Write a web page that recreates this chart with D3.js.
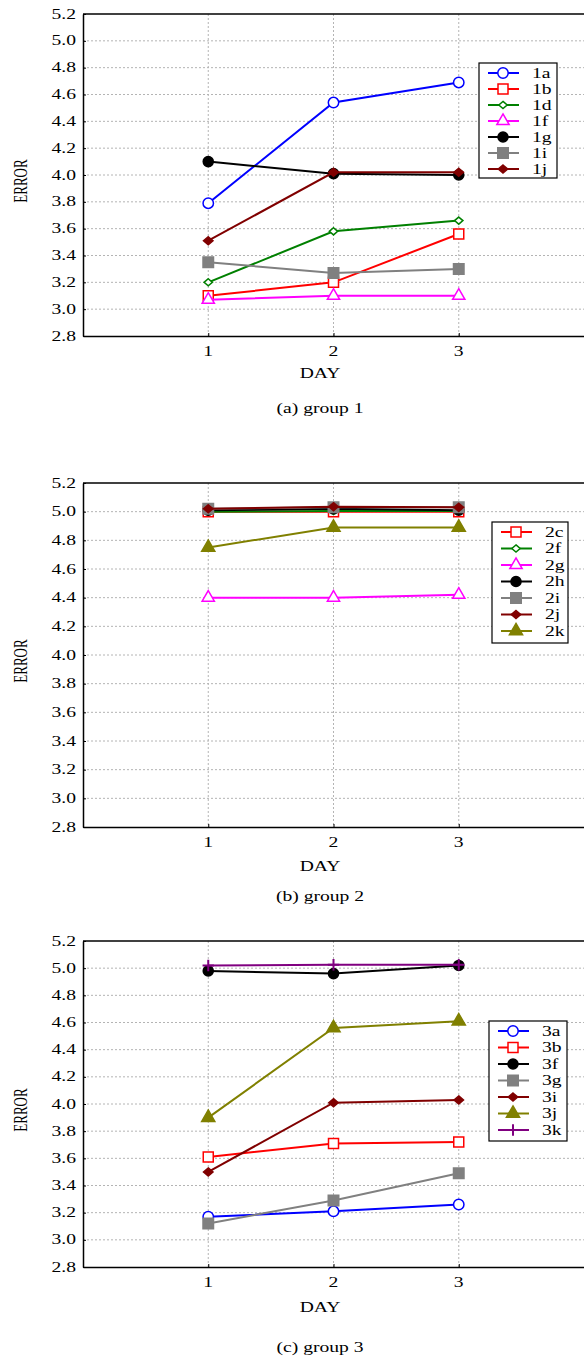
<!DOCTYPE html>
<html>
<head>
<meta charset="utf-8">
<script src="https://cdn.jsdelivr.net/npm/d3@7"></script>
<style>
  body { margin: 0; background: #fff; }
  svg { display: block; }
  text { font-family: "Liberation Serif", "Times New Roman", serif; fill: #000; }
</style>
</head>
<body>
<svg id="chart" width="584" height="1356"></svg>
<script>
// ---- data ----
const days = [1, 2, 3]
const yTicks = [2.8, 3.0, 3.2, 3.4, 3.6, 3.8, 4.0, 4.2, 4.4, 4.6, 4.8, 5.0, 5.2]

const group1Names = ["1a", "1b", "1d", "1f", "1g", "1i", "1j"]
const group1Values = [
  [3.79, 4.54, 4.69],
  [3.10, 3.20, 3.56],
  [3.20, 3.58, 3.66],
  [3.07, 3.10, 3.10],
  [4.10, 4.01, 4.00],
  [3.35, 3.27, 3.30],
  [3.51, 4.02, 4.02]
]

const group2Names = ["2c", "2f", "2g", "2h", "2i", "2j", "2k"]
const group2Values = [
  [5.00, 5.00, 5.00],
  [5.00, 5.005, 5.005],
  [4.40, 4.40, 4.42],
  [5.01, 5.02, 5.01],
  [5.02, 5.03, 5.03],
  [5.02, 5.035, 5.03],
  [4.75, 4.89, 4.89]
]

const group3Names = ["3a", "3b", "3f", "3g", "3i", "3j", "3k"]
const group3Values = [
  [3.17, 3.21, 3.26],
  [3.61, 3.71, 3.72],
  [4.98, 4.96, 5.02],
  [3.12, 3.29, 3.49],
  [3.50, 4.01, 4.03],
  [3.90, 4.56, 4.61],
  [5.02, 5.025, 5.025]
]

// ---- styles ----
const diamond = {
  draw(ctx, size) {
    let r = Math.sqrt(size) / 2
    ctx.moveTo(0, -r * 0.85); ctx.lineTo(r, 0); ctx.lineTo(0, r * 0.85); ctx.lineTo(-r, 0); ctx.closePath()
  }
}
const plus = {
  draw(ctx, size) {
    let r = Math.sqrt(size) / 2
    ctx.moveTo(-r, 0); ctx.lineTo(r, 0); ctx.moveTo(0, -r); ctx.lineTo(0, r)
  }
}

const seriesStyles = [
  {color: "#0000ff", symbol: d3.symbolCircle, size: 85, filled: false},
  {color: "#ff0000", symbol: d3.symbolSquare, size: 100, filled: false},
  {color: "#008000", symbol: diamond, size: 70, filled: false},
  {color: "#ff00ff", symbol: d3.symbolTriangle, size: 65, filled: false},
  {color: "#000000", symbol: d3.symbolCircle, size: 80, filled: true},
  {color: "#808080", symbol: d3.symbolSquare, size: 110, filled: true},
  {color: "#800000", symbol: diamond, size: 90, filled: true},
  {color: "#808000", symbol: d3.symbolTriangle, size: 75, filled: true},
  {color: "#800080", symbol: plus, size: 130, filled: false}
]

const panels = [
  {names: group1Names, values: group1Values, styles: [0, 1, 2, 3, 4, 5, 6], caption: "(a) group 1",
   top: 14, bottom: 336, day: 37, cap: 72, legend: {x: 479, y: 63, w: 78, h: 115, step: 16}},
  {names: group2Names, values: group2Values, styles: [1, 2, 3, 4, 5, 6, 7], caption: "(b) group 2",
   top: 483, bottom: 827, day: 39, cap: 69, legend: {x: 492, y: 522, w: 76, h: 121, step: 16.5}},
  {names: group3Names, values: group3Values, styles: [0, 1, 4, 5, 6, 7, 8], caption: "(c) group 3",
   top: 941, bottom: 1267, day: 40, cap: 80, legend: {x: 489, y: 1021, w: 78, h: 120, step: 16.5}}
]

const svg = d3.select("#chart")
const stretch = 1.4

function stretched_text(g, x, y, str, size, anchor, rotate) {
  return g.append("text")
    .attr("transform", `translate(${x},${y}) scale(${stretch},1)` + (rotate ? " rotate(-90)" : ""))
    .attr("text-anchor", anchor)
    .attr("dominant-baseline", "central")
    .style("font-size", size + "px")
    .text(str)
}

function draw_marker(g, st, x, y) {
  g.append("path")
    .attr("transform", `translate(${x},${y})`)
    .attr("d", d3.symbol(st.symbol, st.size)())
    .attr("fill", st.symbol === plus ? "none" : (st.filled ? st.color : "#fff"))
    .attr("stroke", st.color)
    .attr("stroke-width", st.symbol === plus ? 2 : 1.5)
}

function draw_panel(p) {
  let x = d3.scaleLinear().domain([0, 4]).range([83, 584])
  let y = d3.scaleLinear().domain([2.8, 5.2]).range([p.bottom, p.top])
  let g = svg.append("g")

  // grid
  g.selectAll("line.hgrid")
    .data(yTicks.slice(1, -1)).enter()
    .append("line").attr("class", "hgrid")
    .attr("x1", x(0)).attr("x2", 584)
    .attr("y1", d => y(d)).attr("y2", d => y(d))
    .attr("stroke", "#b4b4b4").attr("stroke-dasharray", "2,2")
  g.selectAll("line.vgrid")
    .data(days).enter()
    .append("line").attr("class", "vgrid")
    .attr("x1", d => x(d)).attr("x2", d => x(d))
    .attr("y1", p.top).attr("y2", p.bottom)
    .attr("stroke", "#b4b4b4").attr("stroke-dasharray", "2,2")

  // axes
  let yAxis = d3.axisLeft(y).tickValues(yTicks).tickSize(-3).tickSizeOuter(0).tickFormat(d3.format(".1f"))
  let ya = g.append("g").attr("transform", `translate(${x(0)},0)`).call(yAxis)
  ya.select(".domain").attr("stroke-width", 1.5)
  ya.selectAll(".tick text").remove()
  yTicks.forEach(t => stretched_text(g, 76, y(t), d3.format(".1f")(t), 14, "end"))

  let xAxis = d3.axisBottom(x).tickValues(days).tickSize(-3).tickSizeOuter(0)
  let xa = g.append("g").attr("transform", `translate(0,${p.bottom})`).call(xAxis)
  xa.select(".domain").attr("stroke-width", 1.5)
  xa.selectAll(".tick text").remove()
  days.forEach(d => stretched_text(g, x(d), p.bottom + 15, d, 14, "middle"))

  g.append("line").attr("x1", x(0)).attr("x2", 584).attr("y1", p.top).attr("y2", p.top)
    .attr("stroke", "#000").attr("stroke-width", 1.5)

  stretched_text(g, 320, p.bottom + p.day, "DAY", 14, "middle")
  stretched_text(g, 320, p.bottom + p.cap, p.caption, 14, "middle")
  stretched_text(g, 21, (p.top + p.bottom) / 2 + 6, "ERROR", 13, "middle", true)

  // series
  let line = d3.line().x((d, i) => x(days[i])).y(d => y(d))
  p.values.forEach((vals, k) => {
    let st = seriesStyles[p.styles[k]]
    g.append("path").datum(vals)
      .attr("d", line).attr("fill", "none")
      .attr("stroke", st.color).attr("stroke-width", 2)
    vals.forEach((v, i) => draw_marker(g, st, x(days[i]), y(v)))
  })

  // legend
  let L = p.legend
  let lg = g.append("g")
  lg.append("rect").attr("x", L.x).attr("y", L.y).attr("width", L.w).attr("height", L.h)
    .attr("fill", "#fff").attr("stroke", "#000").attr("stroke-width", 1.2)
  p.names.forEach((name, k) => {
    let st = seriesStyles[p.styles[k]]
    let ry = L.y + 10 + k * L.step
    lg.append("line").attr("x1", L.x + 9).attr("x2", L.x + 40).attr("y1", ry).attr("y2", ry)
      .attr("stroke", st.color).attr("stroke-width", 2)
    draw_marker(lg, st, L.x + 24, ry)
    stretched_text(lg, L.x + 53, ry, name, 14, "start")
  })
}

panels.forEach(draw_panel)
</script>
</body>
</html>
